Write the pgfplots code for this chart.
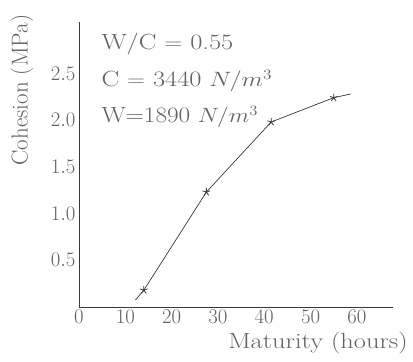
\documentclass[border=0pt]{standalone}
\usepackage{graphicx}
\usepackage{pgfplots}
\pgfplotsset{compat=1.18}
\definecolor{ink}{gray}{0.22}
\definecolor{txt}{gray}{0.38}
\newcommand{\wide}[1]{\scalebox{1.2}[1]{#1}}
\begin{document}
\begin{tikzpicture}
\useasboundingbox (-79pt,-55pt) rectangle (334pt,307pt);
\begin{axis}[
  at={(0pt,0pt)}, anchor=south west,
  scale only axis, width=314pt, height=285pt,
  xmin=0, xmax=67.8, ymin=0, ymax=3.05,
  axis lines=left, axis line style={-, ink, line width=0.8pt},
  xtick={0,10,...,60}, ytick={0.5,1,1.5,2,2.5},
  major tick length=0pt,
  tick label style={txt, font=\fontsize{21}{24}\selectfont},
  yticklabel style={/pgf/number format/.cd, fixed, fixed zerofill, precision=1},
  xlabel={\wide{Maturity (hours)}}, ylabel={Cohesion (MPa)},
  xlabel style={txt, font=\fontsize{22}{26}\selectfont, at={(axis description cs:1.058,-0.144)}, anchor=base east},
  ylabel style={txt, font=\fontsize{23}{26}\selectfont, at={(axis description cs:-0.1815,0.761)}, anchor=center},
  clip=false,
]
\addplot[ink, line width=0.7pt] coordinates {(12.2,0.075) (14,0.18) (27.5,1.23) (41.5,1.98) (55,2.24) (58.7,2.28)};
\addplot[ink, only marks, mark=star, mark size=4pt, line width=0.8pt] coordinates {(14,0.18) (27.5,1.23) (41.5,1.98) (55,2.24)};
\node[anchor=base west, txt, font=\fontsize{22}{26}\selectfont] at (rel axis cs:0.0605,0.902) {\wide{W/C $=$ 0.55}};
\node[anchor=base west, txt, font=\fontsize{22}{26}\selectfont] at (rel axis cs:0.0605,0.772) {\wide{C $=$ 3440 $N/m^3$}};
\node[anchor=base west, txt, font=\fontsize{22}{26}\selectfont] at (rel axis cs:0.0605,0.646) {\scalebox{1.15}[1]{W=1890 $N/m^3$}};
\end{axis}
\end{tikzpicture}
\end{document}
